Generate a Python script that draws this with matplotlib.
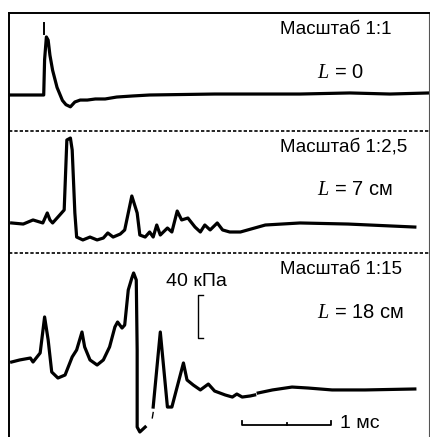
import numpy as np
import matplotlib
matplotlib.use("Agg")
import matplotlib.pyplot as plt

plt.rcParams['font.family'] = ['Liberation Sans', 'DejaVu Sans']
plt.rcParams['mathtext.fontset'] = 'custom'
plt.rcParams['mathtext.it'] = 'Liberation Serif:italic'
plt.rcParams['mathtext.rm'] = 'Liberation Serif'

# time in ms, pressure in kPa (relative to each trace's own baseline)
t1 = [0.00, 0.39, 0.40, 0.42, 0.44, 0.46, 0.49, 0.54, 0.60, 0.64, 0.69, 0.74, 0.80,
      0.88, 0.97, 1.08, 1.21, 1.39, 1.58, 2.31, 3.27, 3.83, 4.28, 4.72]
p1 = [0, 0, 33, 54, 51, 37, 23, 7, -5, -9, -11, -6.5, -4.7,
      -4.7, -3.7, -3.7, -1.9, -0.9, 0, 0.9, 0.9, 1.9, 0.9, 1.9]

t2 = [0.03, 0.16, 0.27, 0.38, 0.43, 0.46, 0.49, 0.57, 0.62, 0.65, 0.69, 0.71, 0.74,
      0.76, 0.83, 0.91, 0.99, 1.06, 1.11, 1.17, 1.25, 1.30, 1.34, 1.38, 1.44, 1.47,
      1.53, 1.58, 1.62, 1.66, 1.70, 1.78, 1.83, 1.89, 1.94, 2.01, 2.09, 2.15, 2.20,
      2.26, 2.34, 2.40, 2.48, 2.60, 2.88, 3.27, 3.81, 4.56]
p2 = [-0.9, -1.9, 1.9, -0.9, 8.4, 1.9, -0.9, 6.5, 11.2, 76.3, 78.1, 67, 8.4,
      -14, -16.7, -14, -16.7, -14.9, -10.2, -14, -11.2, -7.4, 8.4, 24.2, 8.4, -12.1,
      -14, -9.3, -14, -2.8, -12.1, -5.6, -9.3, 10.2, 1.9, 3.7, -4.7, -9.3, -2.8,
      -7.4, -0.9, -7.4, -9.3, -9.3, -2.8, -0.9, -1.9, -4.7]

t3 = [0.03, 0.12, 0.24, 0.27, 0.35, 0.40, 0.44, 0.48, 0.55, 0.63, 0.71, 0.76, 0.82,
      0.85, 0.91, 0.99, 1.06, 1.13, 1.19, 1.22, 1.27, 1.30, 1.34, 1.38, 1.40, 1.43,
      1.44, 1.44, 1.47, 1.53, np.nan,
      1.62, 1.70, 1.78, 1.83, 1.96, 2.00, 2.07, 2.15, 2.24, 2.31, 2.43, 2.51, 2.56,
      2.62, 2.71, 2.76, np.nan,
      2.80, 2.96, 3.18, 3.36, 3.63, 4.00, 4.56]
p3 = [0, 1.9, 3.7, 0, 8.4, 41.9, 20.5, -9.3, -14.9, -12.1, 4.7, 11.2, 27.9,
      14, 1.9, -2.8, 1.9, 14, 32.6, 37.2, 31.6, 34.4, 67, 78.1, 82.8, 76.3,
      11.2, -60.5, -65.1, -60.5, np.nan,
      -41.9, 27.9, -41.9, -41.9, -0.9, -16.7, -21.4, -26, -20.5, -27, -30.7, -32.6, -29.8,
      -32.6, -31.6, -30.7, np.nan,
      -28.8, -26, -23.3, -24.2, -26, -26, -25.1]

# small start marks drawn on the oscillograms
mark1_t = [0.39, 0.39]
mark1_p = [57, 67]
mark3_t = [1.61, 1.62]
mark3_p = [-52, -47]

scales = ["Масштаб 1:1", "Масштаб 1:2,5", "Масштаб 1:15"]
distances = ["$L$ = 0", "$L$ = 7 см", "$L$ = 18 см"]

px_kpa = 1.075   # pixels per kPa
px_ms = 89.0     # pixels per ms
baselines = [(437 - 95) / px_kpa, (437 - 222) / px_kpa, (437 - 362) / px_kpa]
separators = [(437 - 131) / px_kpa, (437 - 253) / px_kpa]

fig = plt.figure(figsize=(4.30, 4.37), dpi=100)
ax = fig.add_axes([9 / 430, 0, 420 / 430, 424 / 437])
ax.set_xlim(0, 420 / px_ms)
ax.set_ylim(0, 424 / px_kpa)
ax.set_xticks([])
ax.set_yticks([])
ax.spines['bottom'].set_visible(False)
for s in ['top', 'left']:
    ax.spines[s].set_linewidth(1.4)
ax.spines['right'].set_linewidth(0.8)
ax.spines['right'].set_color('#555555')

for t, p, b in zip([t1, t2, t3], [p1, p2, p3], baselines):
    ax.plot(t, np.array(p) + b, color='black', lw=2.3, solid_joinstyle='round')

ax.plot(mark1_t, np.array(mark1_p) + baselines[0], color='black', lw=1.4)
ax.plot(mark3_t, np.array(mark3_p) + baselines[2], color='black', lw=1.0)

for y in separators:
    ax.axhline(y, color='black', lw=1.2, ls=(0, (2.0, 1.2)))

# scale text
for i in range(3):
    top = [13, 131, 253][i]
    fig.text(280 / 430, 1 - (top + 16) / 437, scales[i], fontsize=13.5, va='center', ha='left')
    fig.text(317 / 430, 1 - (top + [59, 59, 60][i]) / 437, distances[i], fontsize=14.5,
             va='center', ha='left')

# 40 kPa bracket
bx = 2.12
b0 = baselines[2] + 22
ax.plot([bx + 0.06, bx, bx, bx + 0.06], [b0 + 40, b0 + 40, b0, b0], color='black', lw=1.0)
fig.text(166 / 430, 1 - 282 / 437, "40 кПа", fontsize=14, va='center', ha='left')

# 1 ms bar
s0 = 2.62
sy = 11.2
ax.plot([s0, s0, s0 + 1, s0 + 1], [sy + 4, sy, sy, sy + 4], color='black', lw=1.3)
ax.plot([s0 + 0.5, s0 + 0.5], [sy, sy + 2], color='black', lw=1.3)
fig.text(340 / 430, 1 - 424 / 437, "1 мс", fontsize=14, va='center', ha='left')

fig.savefig("out.png", dpi=100)
